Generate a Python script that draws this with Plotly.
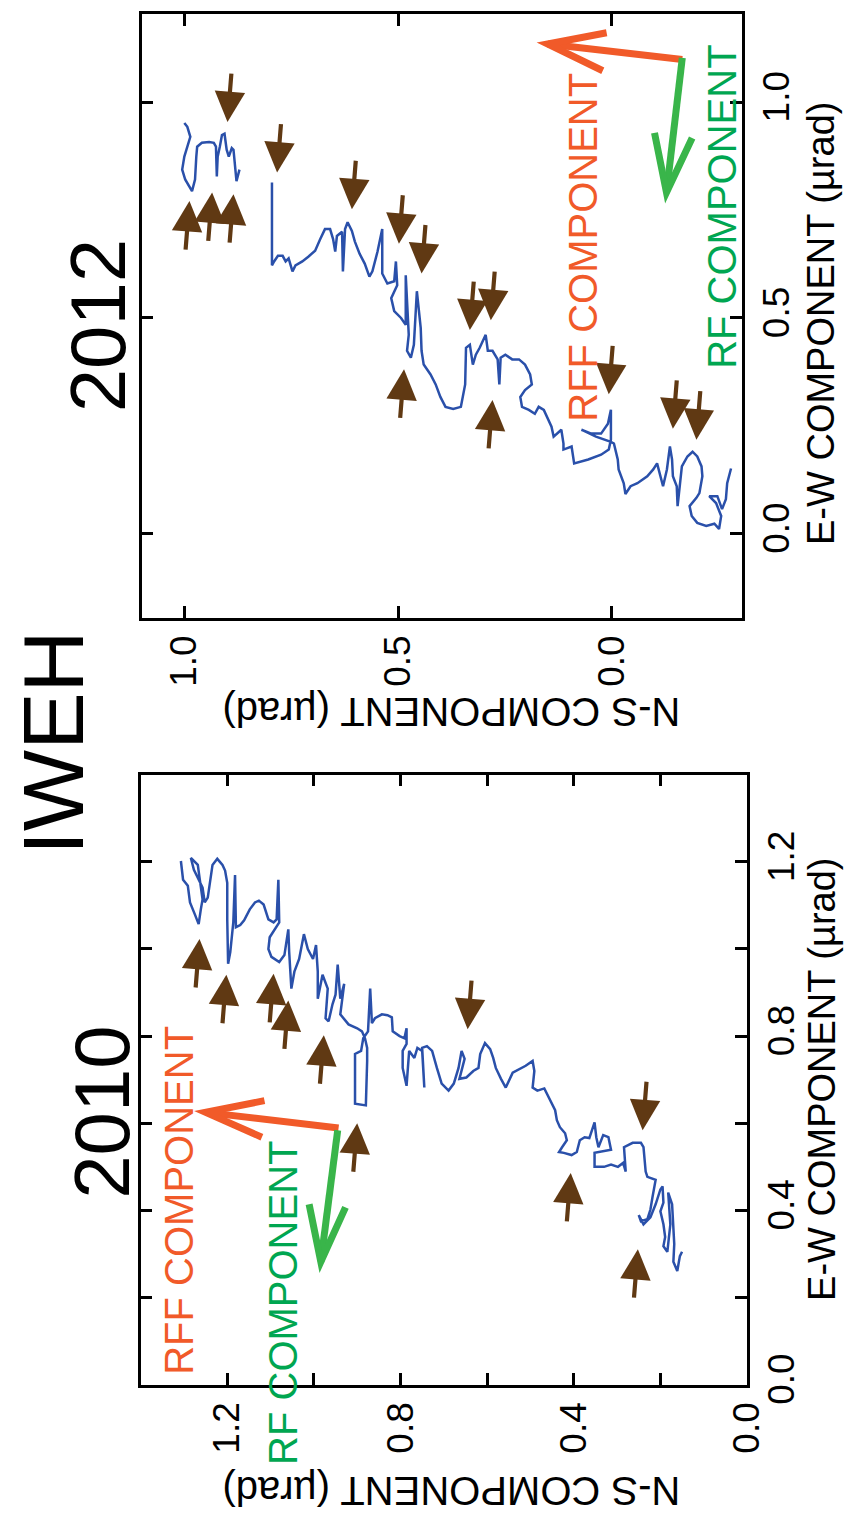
import plotly.graph_objects as go

# ---------------- data (N-S component, E-W component, in µrad) ----------------
ns_2012 = [1.000, 0.993, 0.986, 0.993, 1.000, 1.005, 0.998, 0.982, 0.975, 0.972, 0.970, 0.959, 0.942, 0.931,
           0.926, 0.924, 0.922, 0.917, 0.912, 0.906, 0.901, 0.896, 0.889, 0.885, 0.882, 0.878, 0.871, None,
           0.795, 0.795, 0.790, 0.781, 0.770, 0.763, 0.756, 0.747, 0.740, 0.724, 0.710, 0.694, 0.682, 0.671,
           0.659, 0.652, 0.647, 0.643, 0.631, 0.629, 0.624, 0.618, 0.608, 0.601, 0.590, 0.578, 0.567, 0.560,
           0.548, 0.537, 0.537, 0.525, 0.509, 0.505, 0.502, 0.516, 0.509, 0.493, 0.482, 0.482, 0.475, 0.479,
           0.470, 0.463, 0.456, 0.452, 0.447, 0.445, 0.440, 0.424, 0.412, 0.401, 0.389, 0.371, 0.353, 0.343,
           0.341, 0.332, 0.325, 0.318, 0.309, 0.295, 0.290, 0.279, 0.267, 0.263, 0.260, 0.249, 0.233, 0.217,
           0.203, 0.191, 0.187, 0.203, 0.214, 0.210, 0.194, 0.180, 0.171, 0.159, 0.152, 0.141, 0.136, 0.118,
           0.113, 0.113, 0.094, 0.088, 0.055, 0.025, 0.007, 0.002, 0.002, 0.009, 0.025, 0.048, 0.071, 0.037,
           0.002, -0.005, -0.014, -0.016, -0.028, -0.032, -0.044, -0.060, -0.083, -0.097, -0.106, -0.113,
           -0.120, -0.129, -0.136, -0.141, -0.143, -0.152, -0.154, -0.164, -0.177, -0.189, -0.200, -0.210,
           -0.212, -0.205, -0.198, -0.182, -0.187, -0.200, -0.221, -0.240, -0.251, -0.256, -0.244, -0.228,
           -0.247, -0.258, -0.267, -0.270, -0.279]
ew_2012 = [0.952, 0.943, 0.920, 0.897, 0.874, 0.844, 0.821, 0.794, 0.821, 0.874, 0.897, 0.906, 0.908, 0.906,
           0.897, 0.828, 0.874, 0.897, 0.924, 0.927, 0.890, 0.874, 0.894, 0.890, 0.851, 0.817, 0.844, None,
           0.814, 0.622, 0.631, 0.644, 0.644, 0.631, 0.638, 0.608, 0.622, 0.631, 0.642, 0.656, 0.683, 0.706,
           0.706, 0.683, 0.654, 0.690, 0.700, 0.608, 0.706, 0.722, 0.702, 0.677, 0.649, 0.626, 0.596, 0.608,
           0.654, 0.706, 0.603, 0.580, 0.585, 0.631, 0.576, 0.546, 0.516, 0.500, 0.484, 0.599, 0.461, 0.424,
           0.408, 0.438, 0.562, 0.530, 0.477, 0.424, 0.392, 0.369, 0.346, 0.317, 0.294, 0.289, 0.294, 0.346,
           0.431, 0.438, 0.392, 0.415, 0.431, 0.461, 0.424, 0.424, 0.404, 0.346, 0.408, 0.415, 0.404, 0.404,
           0.392, 0.369, 0.346, 0.333, 0.317, 0.294, 0.287, 0.278, 0.294, 0.287, 0.271, 0.248, 0.225, 0.241,
           0.209, 0.195, 0.202, 0.163, 0.172, 0.183, 0.195, 0.218, 0.287, 0.255, 0.232, 0.232, 0.241, 0.225,
           0.213, 0.209, 0.172, 0.149, 0.117, 0.092, 0.110, 0.117, 0.133, 0.149, 0.163, 0.133,
           0.110, 0.149, 0.202, 0.172, 0.133, 0.110, 0.064, 0.156, 0.179, 0.190, 0.179, 0.156,
           0.133, 0.094, 0.083, 0.064, 0.041, 0.025, 0.018, 0.023, 0.011, 0.041, 0.071, 0.087,
           0.087, 0.057, 0.080, 0.117, 0.151]

ns_2010 = [1.307, 1.302, 1.291, 1.286, 1.275, 1.266, 1.261, 1.257, 1.264, 1.268, 1.284, 1.277, 1.257, 1.252,
           1.245, 1.241, 1.234, 1.223, 1.211, 1.205, 1.200, 1.200, 1.198, 1.193, 1.186, 1.182, 1.180, 1.170,
           1.161, 1.148, 1.136, 1.127, 1.116, 1.105, 1.093, 1.086, 1.082, 1.080, 1.102, 1.105, 1.098, 1.080,
           1.068, 1.059, 1.057, 1.052, 1.045, 1.034, 1.023, 1.014, 1.002, 0.995, 0.991, 0.991, 0.980, 0.968,
           0.973, 0.966, 0.957, 0.950, 0.945, 0.939, 0.930, 0.939, 0.920, 0.900, 0.889, 0.882, 0.877, 0.877,
           0.880, 0.905, 0.905, 0.891, 0.886, 0.875, 0.870, 0.866, 0.859, 0.843, 0.830, 0.820, 0.818, 0.802,
           0.791, 0.786, 0.786, 0.795, 0.795, 0.786, 0.780, 0.768, 0.761, 0.750, 0.745, 0.750, 0.739, 0.727,
           0.716, 0.705, 0.689, 0.677, 0.666, 0.659, 0.652, 0.664, 0.648, 0.632, 0.620, 0.616, 0.605, 0.593,
           0.586, 0.580, 0.568, 0.557, 0.541, 0.523, 0.511, 0.495, 0.491, 0.495, 0.484, 0.468, 0.457, 0.450,
           0.443, 0.439, 0.432, 0.420, 0.416, 0.427, 0.434, 0.423, 0.405, 0.393, 0.386, 0.375, 0.364, 0.352,
           0.348, 0.343, 0.332, 0.320, 0.314, 0.352, 0.352, 0.330, 0.314, 0.298, 0.286, 0.280, 0.284, 0.264,
           0.245, 0.239, 0.234, 0.230, 0.211, 0.218, 0.223, 0.230, 0.245, 0.250, 0.239, 0.223, 0.211, 0.200,
           0.195, 0.193, 0.200, 0.193, 0.189, 0.193, 0.184, 0.177, 0.182, 0.173, 0.168, 0.170, 0.161, 0.155,
           0.150]
ew_2010 = [1.202, 1.159, 1.145, 1.107, 1.080, 1.057, 1.091, 1.114, 1.164, 1.193, 1.209, 1.182, 1.141, 1.107,
           1.118, 1.145, 1.193, 1.207, 1.193, 1.180, 1.152, 1.068, 0.966, 0.993, 1.061, 1.170, 1.050, 1.055,
           1.066, 1.091, 1.107, 1.111, 1.102, 1.068, 1.061, 1.068, 1.159, 1.061, 1.027, 1.000, 0.982, 0.970,
           0.986, 1.045, 0.993, 0.909, 0.948, 0.977, 1.034, 1.000, 0.977, 1.009, 0.948, 0.886, 0.941, 0.909,
           0.841, 0.834, 0.873, 0.895, 0.964, 0.886, 0.920, 0.850, 0.827, 0.818, 0.811, 0.795, 0.773, 0.743,
           0.641, 0.645, 0.759, 0.766, 0.795, 0.811, 0.909, 0.830, 0.841, 0.850, 0.848, 0.843, 0.811, 0.800,
           0.795, 0.818, 0.782, 0.766, 0.727, 0.686, 0.766, 0.750, 0.773, 0.766, 0.682, 0.773, 0.777, 0.766,
           0.727, 0.691, 0.675, 0.691, 0.727, 0.766, 0.748, 0.702, 0.705, 0.720, 0.727, 0.759, 0.784, 0.770,
           0.750, 0.727, 0.702, 0.682, 0.716, 0.725, 0.732, 0.743, 0.720, 0.682, 0.675, 0.680, 0.659, 0.645,
           0.630, 0.607, 0.591, 0.577, 0.561, 0.545, 0.534, 0.532, 0.527, 0.534, 0.561, 0.568, 0.566, 0.602,
           0.568, 0.545, 0.573, 0.568, 0.539, 0.532, 0.500, 0.500, 0.505, 0.500, 0.509, 0.489, 0.545, 0.555,
           0.555, 0.545, 0.489, 0.477, 0.470, 0.432, 0.402, 0.380, 0.375, 0.389, 0.368, 0.384, 0.414, 0.448,
           0.455, 0.418, 0.398, 0.368, 0.339, 0.318, 0.305, 0.368, 0.441, 0.414, 0.323, 0.282, 0.261, 0.295,
           0.305]

ticks_2012 = [0.0, 0.5, 1.0]
ticklabels_2012 = ["0.0", "0.5", "1.0"]
ticks_2010 = [0.0, 0.2, 0.4, 0.6, 0.8, 1.0, 1.2]
ticklabels_2010 = ["0.0", "", "0.4", "", "0.8", "", "1.2"]

# brown event markers: (N-S, E-W of arrow tip, direction)
events_2012 = [(0.899, 0.954, "down"), (0.988, 0.771, "up"), (0.935, 0.791, "up"), (0.885, 0.787, "up"),
               (0.783, 0.837, "down"), (0.608, 0.752, "down"), (0.498, 0.672, "down"), (0.445, 0.603, "down"),
               (0.486, 0.381, "up"), (0.332, 0.472, "down"), (0.283, 0.495, "down"), (0.279, 0.310, "up"),
               (0.007, 0.323, "down"), (-0.143, 0.243, "down"), (-0.198, 0.218, "down")]
events_2010 = [(1.264, 1.023, "up"), (1.202, 0.941, "up"), (1.093, 0.943, "up"), (1.059, 0.882, "up"),
               (0.977, 0.802, "up"), (0.900, 0.600, "up"), (0.645, 0.816, "down"), (0.407, 0.486, "up"),
               (0.241, 0.584, "down"), (0.252, 0.311, "up")]

# component direction arrows: base, tip, wing1, wing2 (N-S, E-W)
rff_2012 = [(-0.165, 1.099), (0.150, 1.135), (0.012, 1.161), (0.021, 1.073)]
rf_2012 = [(-0.165, 1.103), (-0.128, 0.791), (-0.100, 0.929), (-0.188, 0.917)]
rff_2010 = [(0.943, 0.589), (1.250, 0.625), (1.114, 0.652), (1.120, 0.568)]
rf_2010 = [(0.945, 0.584), (0.984, 0.282), (1.011, 0.414), (0.927, 0.407)]

# ---------------- styles ----------------
FONT = "Liberation Sans, Arial, Helvetica, sans-serif"
BLUE = "#2A50AA"
BROWN = "#603913"
ORANGE = "#F15A29"
GREEN_TXT = "#00A651"
GREEN_ARR = "#39B54A"
W, H = 851, 1530

fig = go.Figure()
fig.add_trace(go.Scatter(x=ns_2012, y=ew_2012, mode="lines", line=dict(color=BLUE, width=2.5),
                         xaxis="x", yaxis="y", connectgaps=False, hoverinfo="skip"))
fig.add_trace(go.Scatter(x=ns_2010, y=ew_2010, mode="lines", line=dict(color=BLUE, width=2.5),
                         xaxis="x2", yaxis="y2", hoverinfo="skip"))

axis_common = dict(showgrid=False, zeroline=False, showline=True, linecolor="black", linewidth=2.5,
                   ticks="inside", ticklen=12, tickwidth=2.5, tickcolor="black", mirror="ticks",
                   tickfont=dict(family=FONT, size=37, color="black"), tickangle=-90, tickmode="array")

fig.update_layout(
    width=W, height=H, margin=dict(l=0, r=0, t=0, b=0),
    paper_bgcolor="white", plot_bgcolor="white", showlegend=False,
    xaxis=dict(domain=[145 / W, 760 / W], range=[1.10, -0.305], anchor="y",
               tickvals=ticks_2012, ticktext=ticklabels_2012, **axis_common),
    yaxis=dict(domain=[1 - 626 / H, 1 - 14 / H], range=[-0.195, 1.205], anchor="x", side="right",
               tickvals=ticks_2012, ticktext=ticklabels_2012, **axis_common),
    xaxis2=dict(domain=[144 / W, 765 / W], range=[1.4, 0.0], anchor="y2",
                tickvals=ticks_2010, ticktext=ticklabels_2010, **axis_common),
    yaxis2=dict(domain=[1 - 1403 / H, 1 - 785 / H], range=[0.0, 1.4], anchor="x2", side="right",
                tickvals=ticks_2010, ticktext=ticklabels_2010, **axis_common),
)

annotations = []
for events, xr, yr in [(events_2012, "x", "y"), (events_2010, "x2", "y2")]:
    for ns, ew, d in events:
        ax, ay = (-4, 50) if d == "up" else (4, -50)
        annotations.append(dict(x=ns, y=ew, xref=xr, yref=yr, ax=ax, ay=ay, showarrow=True,
                                arrowhead=2, arrowsize=1.45, arrowwidth=4.2, arrowcolor=BROWN,
                                standoff=0, text=""))


def txt(text, px, py, size, color="black", angle=-90):
    annotations.append(dict(text=text, x=px / W, y=1 - py / H, xref="paper", yref="paper",
                            showarrow=False, textangle=angle, xanchor="center", yanchor="middle",
                            font=dict(family=FONT, size=size, color=color)))


txt("IWEH", 54, 752, 86)
txt("2012", 100, 330, 78)
txt("2010", 105, 1127, 78)
txt("E-W COMPONENT (µrad)", 840, 328, 38)
txt("E-W COMPONENT (µrad)", 841, 1094, 38)
txt("N-S COMPONENT (µrad)", 462, 722, 40, angle=180)
txt("N-S COMPONENT (µrad)", 462, 1510, 40, angle=180)
txt("RFF COMPONENT", 597, 250, 40, ORANGE)
txt("RF COMPONENT", 740, 210, 40, GREEN_TXT)
txt("RFF COMPONENT", 183, 1216, 40, ORANGE)
txt("RF COMPONENT", 290, 1320, 40, GREEN_TXT)
fig.update_layout(annotations=annotations)

shapes = []
for arrow, color, xr, yr in [(rff_2012, ORANGE, "x", "y"), (rf_2012, GREEN_ARR, "x", "y"),
                             (rff_2010, ORANGE, "x2", "y2"), (rf_2010, GREEN_ARR, "x2", "y2")]:
    base, tip, w1, w2 = arrow
    shapes.append(dict(type="path", xref=xr, yref=yr, line=dict(color=color, width=7),
                       path=f"M {base[0]},{base[1]} L {tip[0]},{tip[1]}"))
    shapes.append(dict(type="path", xref=xr, yref=yr, line=dict(color=color, width=7),
                       path=f"M {w1[0]},{w1[1]} L {tip[0]},{tip[1]} L {w2[0]},{w2[1]}"))
fig.update_layout(shapes=shapes)

fig.write_html("out.html")
